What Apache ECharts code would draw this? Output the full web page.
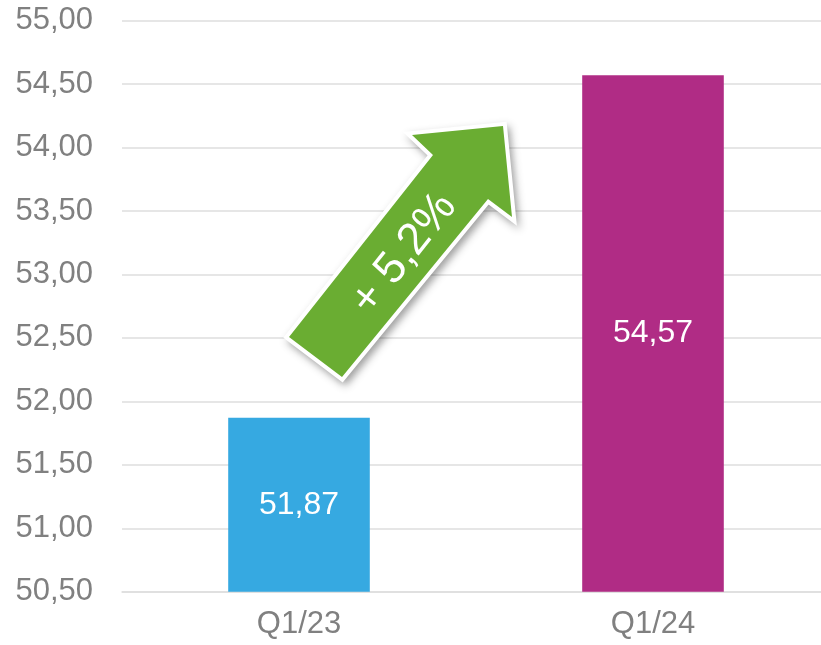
<!DOCTYPE html>
<html>
<head>
<meta charset="utf-8">
<script src="https://cdn.jsdelivr.net/npm/echarts@6/dist/echarts.min.js"></script>
<style>
  html, body { margin: 0; padding: 0; background: #fff; }
  #chart { width: 821px; height: 645px; }
</style>
</head>
<body>
<div id="chart"></div>
<script>
const quarters = ["Q1/23", "Q1/24"];
const values = [51.87, 54.57];
const barColors = ["#36A9E1", "#B02C85"];
const growthLabel = "+ 5,2%";

const fmt = v => v.toFixed(2).replace(".", ",");

const chart = echarts.init(document.getElementById("chart"));

// arrow outline (pixels), shaft runs from lower-left to upper-right
const arrowPoints = [
  [289, 337], [433, 155], [412, 135], [503, 126],
  [512, 217], [488, 199], [342, 377]
];

const option = {
  animation: false,
  grid: {
    left: 122, top: 20.7, width: 708, bottom: 53.3,
    containLabel: false,
    outerBoundsMode: "none"
  },
  xAxis: {
    type: "category",
    data: quarters,
    axisTick: { show: false },
    axisLine: { lineStyle: { color: "#dedede", width: 1.5 } },
    axisLabel: {
      color: "#808080",
      fontFamily: "Liberation Sans",
      fontSize: 31,
      margin: 17
    }
  },
  yAxis: {
    type: "value",
    min: 50.5,
    max: 55,
    interval: 0.5,
    axisLine: { show: false },
    axisTick: { show: false },
    splitLine: { lineStyle: { color: "#dedede", width: 1.5 } },
    axisLabel: {
      color: "#808080",
      fontFamily: "Liberation Sans",
      fontSize: 31,
      margin: 29,
      formatter: fmt
    }
  },
  series: [
    {
      type: "bar",
      barWidth: "40%",
      data: values.map((v, i) => ({ value: v, itemStyle: { color: barColors[i] } })),
      label: {
        show: true,
        position: "inside",
        color: "#fff",
        fontFamily: "Liberation Sans",
        fontSize: 32,
        formatter: p => fmt(p.value)
      }
    }
  ],
  graphic: [
    {
      type: "polygon",
      shape: { points: arrowPoints },
      style: {
        fill: "#6AAD32",
        stroke: "#fff",
        lineWidth: 8,
        lineJoin: "miter",
        shadowBlur: 8,
        shadowOffsetX: 3,
        shadowOffsetY: 4,
        shadowColor: "rgba(0,0,0,0.3)"
      },
      z: 100
    },
    {
      type: "polygon",
      shape: { points: arrowPoints },
      style: { fill: "#6AAD32" },
      z: 101
    },
    {
      type: "text",
      x: 404,
      y: 254,
      rotation: Math.atan2(182, 144),
      style: {
        text: growthLabel,
        fill: "#fff",
        fontFamily: "Liberation Sans",
        fontSize: 45,
        align: "center",
        verticalAlign: "middle"
      },
      z: 102
    }
  ]
};

chart.setOption(option);
</script>
</body>
</html>
